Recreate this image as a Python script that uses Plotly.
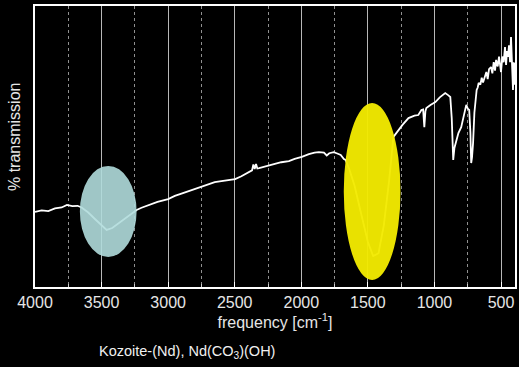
import plotly.graph_objects as go

# Spectrum: wavenumber [cm^-1] and % transmission (0-100 scale of plot height)
wavenumber = [4000, 3950, 3900, 3850, 3800, 3760, 3720, 3680, 3650, 3600, 3550, 3500, 3462, 3420,
              3380, 3330, 3280, 3237, 3200, 3140, 3080, 3000, 2950, 2900, 2850, 2800, 2750, 2700,
              2650, 2600, 2550, 2497, 2450, 2400, 2370, 2360, 2350, 2340, 2330, 2317, 2280, 2242,
              2200, 2150, 2093, 2050, 1996, 1943, 1900, 1868, 1830, 1809, 1790, 1770, 1756, 1730,
              1704, 1680, 1667, 1640, 1600, 1550, 1500, 1460, 1420, 1380, 1340, 1308, 1270, 1240,
              1195, 1150, 1121, 1098, 1085, 1076, 1068, 1061, 1030, 993, 960, 919, 895, 881, 870,
              862, 859, 850, 836, 820, 799, 780, 761, 750, 739, 730, 724, 718, 710, 700, 690, 683,
              675, 668, 655, 645, 635, 620, 610, 600, 590, 575, 565, 555, 545, 537, 525, 515, 505,
              500, 490, 480, 470, 462, 455, 448, 440, 432, 425, 420, 415, 410, 405, 400, 395]
transmission = [26.7, 27.3, 27.0, 28.0, 28.3, 29.2, 28.8, 28.9, 28.3, 26.5, 24.2, 22.0, 20.3, 21.0,
                22.4, 24.0, 25.8, 27.4, 28.2, 29.2, 30.3, 31.3, 32.4, 33.2, 34.0, 35.0, 35.6, 36.5,
                37.3, 37.7, 38.1, 38.4, 39.4, 40.7, 41.5, 43.6, 42.0, 43.8, 42.2, 42.3, 42.8, 43.3,
                43.8, 44.4, 44.8, 45.6, 46.3, 47.3, 47.8, 48.0, 47.8, 46.8, 47.6, 47.9, 48.0, 47.5,
                47.0, 45.5, 45.2, 42.0, 36.0, 26.0, 16.0, 11.0, 12.0, 22.0, 38.0, 53.4, 55.9, 57.7,
                60.1, 61.0, 61.2, 63.0, 63.2, 56.9, 62.5, 63.7, 64.8, 65.8, 67.5, 69.0, 68.2, 67.6, 60.0,
                47.0, 45.2, 49.5, 52.3, 54.8, 56.9, 60.5, 64.8, 63.5, 63.0, 55.0, 44.1, 46.0, 51.2, 62.0, 68.5, 70.1,
                71.0, 72.6, 72.0, 74.5, 72.8, 74.7, 76.5, 74.0, 77.5, 78.3, 76.0, 80.0, 77.0, 80.8, 78.5, 82.0, 79.0,
                76.5, 82.0, 80.0, 85.4, 79.0, 84.0, 81.9, 86.0, 80.0, 89.0, 83.0, 75.0, 70.1, 80.0, 72.0, 79.7]

x_ticks = [4000, 3500, 3000, 2500, 2000, 1500, 1000, 500]
x_tick_labels = ["4000", "3500", "3000", "2500", "2000", "1500", "1000", "500"]

# Highlight ellipses (data units): OH region and carbonate region
oh_region = dict(x0=3663, x1=3237, y0=10.7, y1=43.1)
co3_region = dict(x0=1681, x1=1255, y0=2.5, y1=65.5)

fig = go.Figure()
fig.add_trace(go.Scatter(x=wavenumber, y=transmission, mode="lines",
                         line=dict(color="white", width=1.8), hoverinfo="skip"))

fig.add_shape(type="circle", xref="x", yref="y", **oh_region,
              fillcolor="#b0dcdc", line=dict(width=0), opacity=0.9, layer="above")
fig.add_shape(type="circle", xref="x", yref="y", **co3_region,
              fillcolor="#f2ea00", line=dict(width=0), opacity=0.96, layer="above")

font_family = "Liberation Sans, Arial, sans-serif"

fig.update_layout(
    width=519, height=367,
    margin=dict(l=35, r=2, t=6, b=80),
    paper_bgcolor="black", plot_bgcolor="black",
    showlegend=False,
    font=dict(family=font_family, color="#e6e6e6", size=16),
    xaxis=dict(
        range=[4000, 395],
        tickvals=x_ticks, ticktext=x_tick_labels,
        ticks="inside", ticklen=5, tickcolor="white", tickwidth=1,
        showgrid=True, gridcolor="#b8b8b8", gridwidth=1,
        minor=dict(dtick=250, ticks="inside", ticklen=3, tickcolor="#cccccc",
                   showgrid=True, gridcolor="#909090", griddash="dot", gridwidth=1),
        showline=True, linecolor="white", linewidth=2, mirror=True,
        zeroline=False,
        tickfont=dict(size=16, color="#e6e6e6"),
        title=dict(text="frequency [cm<sup>-1</sup>]", font=dict(size=16, color="#e6e6e6"), standoff=4),
    ),
    yaxis=dict(
        range=[0, 100],
        showticklabels=False, ticks="",
        showgrid=False, zeroline=False,
        showline=True, linecolor="white", linewidth=2, mirror=True,
    ),
    annotations=[
        dict(text="% transmission", textangle=-90, xref="paper", yref="paper",
             x=-0.0415, y=0.534, xanchor="center", yanchor="middle", showarrow=False,
             font=dict(size=16, color="#e6e6e6")),
        dict(text="Kozoite-(Nd), Nd(CO<sub>3</sub>)(OH)", xref="paper", yref="paper",
             x=0.316, y=-0.231, xanchor="center", yanchor="middle", showarrow=False,
             font=dict(size=14.5, color="#f0f0f0")),
    ],
)

fig.write_html("out.html")
